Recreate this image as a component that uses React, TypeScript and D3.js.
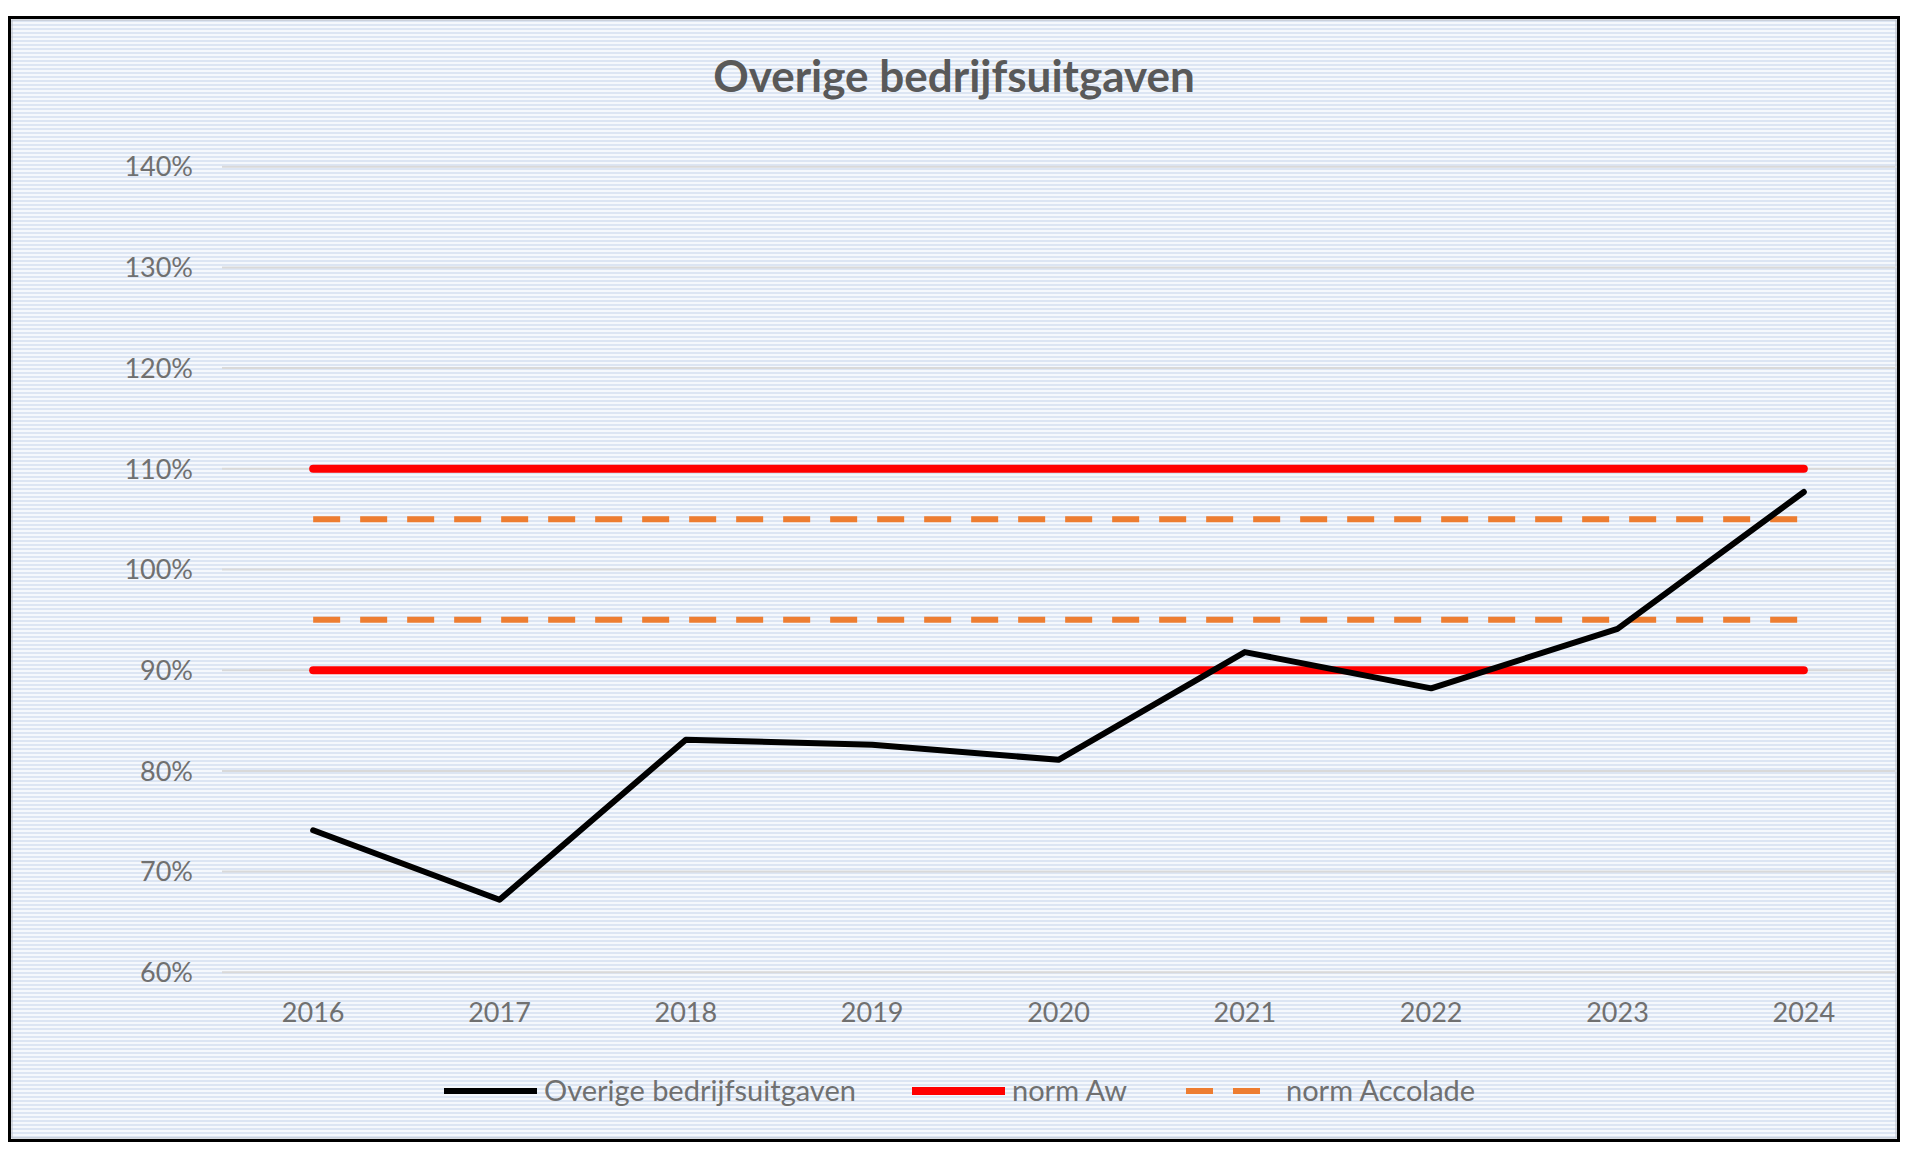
import React, { useEffect, useRef } from "react";
import * as d3 from "d3";

// chart data
const years = ["2016", "2017", "2018", "2019", "2020", "2021", "2022", "2023", "2024"];
const bedrijfsuitgaven = [74.1, 67.2, 83.1, 82.6, 81.1, 91.8, 88.2, 94.1, 107.7];
const normAwBounds = [110, 90];
const normAccoladeBounds = [105, 95];
const yTicks = [60, 70, 80, 90, 100, 110, 120, 130, 140];

const legendItems = [
  { label: "Overige bedrijfsuitgaven", color: "#000000", width: 6, dash: "" },
  { label: "norm Aw", color: "#ff0000", width: 8, dash: "" },
  { label: "norm Accolade", color: "#ed7d31", width: 6, dash: "27 20" },
];

const W = 1919;
const H = 1154;
const FONT = "Lato, 'Open Sans', sans-serif";

export default function App() {
  const svgRef = useRef<SVGSVGElement>(null);

  useEffect(() => {
    if (!svgRef.current) return;
    const svg = d3.select(svgRef.current);
    svg.selectAll("*").remove();

    // striped background pattern
    const defs = svg.append("defs");
    const pat = defs
      .append("pattern")
      .attr("id", "stripes")
      .attr("patternUnits", "userSpaceOnUse")
      .attr("width", 8)
      .attr("height", 4);
    pat.append("rect").attr("width", 8).attr("height", 2).attr("fill", "#dce5f3");
    pat.append("rect").attr("y", 2).attr("width", 8).attr("height", 2).attr("fill", "#f5f8fc");

    svg.append("rect").attr("width", W).attr("height", H).attr("fill", "#ffffff");
    svg
      .append("rect")
      .attr("x", 9.5)
      .attr("y", 17.5)
      .attr("width", 1889)
      .attr("height", 1123)
      .attr("fill", "url(#stripes)")
      .attr("stroke", "#000")
      .attr("stroke-width", 3);
    svg
      .append("rect")
      .attr("x", 12)
      .attr("y", 20)
      .attr("width", 1884)
      .attr("height", 1118)
      .attr("fill", "none")
      .attr("stroke", "#b8bcc4")
      .attr("stroke-width", 1);

    const x = d3.scaleBand<string>().domain(years).range([220, 1897]).padding(0);
    const cx = (d: string) => (x(d) ?? 0) + x.bandwidth() / 2;
    const y = d3.scaleLinear().domain([60, 140]).range([972.3, 166.7]);

    // title
    svg
      .append("text")
      .attr("x", 954)
      .attr("y", 92)
      .attr("text-anchor", "middle")
      .attr("font-family", FONT)
      .attr("font-weight", "bold")
      .attr("font-size", 44)
      .attr("fill", "#595959")
      .text("Overige bedrijfsuitgaven");

    // gridlines + y labels
    const grid = svg.append("g");
    grid
      .selectAll("line")
      .data(yTicks)
      .join("line")
      .attr("x1", 222)
      .attr("x2", 1895)
      .attr("y1", (d) => y(d))
      .attr("y2", (d) => y(d))
      .attr("stroke", "#d9d9d9")
      .attr("stroke-width", 2);
    grid
      .selectAll("text")
      .data(yTicks)
      .join("text")
      .attr("x", 193)
      .attr("y", (d) => y(d))
      .attr("dy", "0.36em")
      .attr("text-anchor", "end")
      .attr("font-family", FONT)
      .attr("font-size", 27)
      .attr("fill", "#707070")
      .text((d) => `${d}%`);

    // x labels
    svg
      .append("g")
      .selectAll("text")
      .data(years)
      .join("text")
      .attr("x", (d) => cx(d))
      .attr("y", 1012)
      .attr("dy", "0.36em")
      .attr("text-anchor", "middle")
      .attr("font-family", FONT)
      .attr("font-size", 27)
      .attr("fill", "#707070")
      .text((d) => d);

    const first = cx(years[0]);
    const last = cx(years[years.length - 1]);

    // norm Accolade (dashed)
    svg
      .append("g")
      .selectAll("line")
      .data(normAccoladeBounds)
      .join("line")
      .attr("x1", first)
      .attr("x2", last)
      .attr("y1", (d) => y(d))
      .attr("y2", (d) => y(d))
      .attr("stroke", "#ed7d31")
      .attr("stroke-width", 6)
      .attr("stroke-dasharray", "27 20");

    // norm Aw
    svg
      .append("g")
      .selectAll("line")
      .data(normAwBounds)
      .join("line")
      .attr("x1", first)
      .attr("x2", last)
      .attr("y1", (d) => y(d))
      .attr("y2", (d) => y(d))
      .attr("stroke", "#ff0000")
      .attr("stroke-width", 8)
      .attr("stroke-linecap", "round");

    // main series
    const line = d3
      .line<number>()
      .x((_, i) => cx(years[i]))
      .y((d) => y(d));
    svg
      .append("path")
      .datum(bedrijfsuitgaven)
      .attr("d", line)
      .attr("fill", "none")
      .attr("stroke", "#000")
      .attr("stroke-width", 6)
      .attr("stroke-linejoin", "round")
      .attr("stroke-linecap", "round");

    // legend
    const legendStarts = [444, 912, 1186];
    const lg = svg.append("g");
    legendItems.forEach((item, i) => {
      const sx = legendStarts[i];
      lg.append("line")
        .attr("x1", sx)
        .attr("x2", sx + 93)
        .attr("y1", 1091)
        .attr("y2", 1091)
        .attr("stroke", item.color)
        .attr("stroke-width", item.width)
        .attr("stroke-dasharray", item.dash || null);
      lg.append("text")
        .attr("x", sx + 100)
        .attr("y", 1091)
        .attr("dy", "0.36em")
        .attr("font-family", FONT)
        .attr("font-size", 29)
        .attr("fill", "#707070")
        .text(item.label);
    });
  }, []);

  return (
    <svg
      ref={svgRef}
      width={W}
      height={H}
      style={{ position: "absolute", left: 0, top: 0, display: "block" }}
    />
  );
}
